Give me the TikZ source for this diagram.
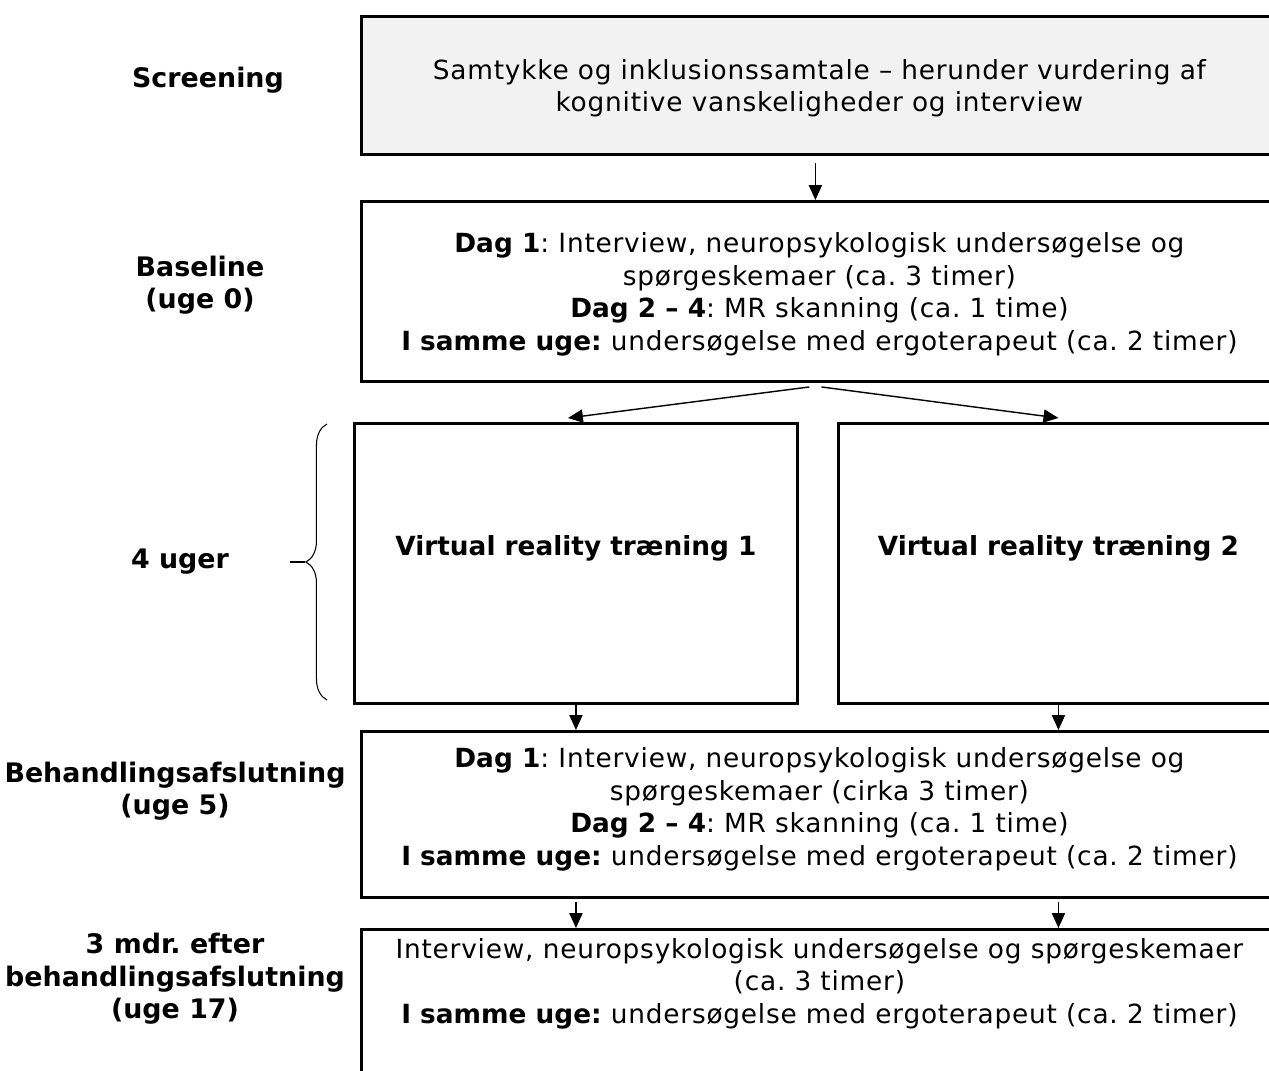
\documentclass[tikz,border=0pt]{standalone}
\usepackage{fontspec}
\setmainfont{DejaVu Sans}[LetterSpace=3.0, BoldFeatures={LetterSpace=0}]
\usetikzlibrary{arrows.meta,positioning,calc,decorations.pathreplacing}

\tikzset{
  stage/.style={draw, line width=1.7pt, anchor=north west, align=center, inner sep=0pt,
                font=\fontsize{15}{18.5}\selectfont},
  phase/.style={align=center, font=\fontsize{15.3}{18.5}\selectfont\bfseries},
  arr/.style={-{Triangle[length=8.5pt,width=7.5pt]}, line width=0.8pt},
}
\frenchspacing

\begin{document}
\begin{tikzpicture}[x=0.02cm, y=-0.02cm]
		\useasboundingbox (0,0) rectangle (1269,1071);

		% boxes
		\path (360, 15)   node[stage, fill=gray!10, minimum width=18.32cm, minimum height=2.76cm, text depth=0pt] (scr)
		        {Samtykke og inklusionssamtale -- herunder vurdering af\\kognitive vanskeligheder og interview}
		      (360, 200)  node[stage, minimum width=18.32cm, minimum height=3.6cm, text depth=0pt] (base)
		        {\textbf{Dag 1}: Interview, neuropsykologisk undersøgelse og\\spørgeskemaer (ca. 3 timer)\\
		         \textbf{Dag 2 -- 4}: MR skanning (ca. 1 time)\\
		         \textbf{I samme uge:} undersøgelse med ergoterapeut (ca. 2 timer)}
		      (353, 422)  node[stage, minimum width=8.86cm, minimum height=5.6cm, text depth=20pt] (vr1)
		        {\textbf{Virtual reality træning 1}}
		      (837, 422)  node[stage, minimum width=8.8cm, minimum height=5.6cm, text depth=20pt] (vr2)
		        {\textbf{Virtual reality træning 2}}
		      (360, 730)  node[stage, minimum width=18.32cm, minimum height=3.32cm, text depth=9pt] (beh)
		        {\textbf{Dag 1}: Interview, neuropsykologisk undersøgelse og\\spørgeskemaer (cirka 3 timer)\\
		         \textbf{Dag 2 -- 4}: MR skanning (ca. 1 time)\\
		         \textbf{I samme uge:} undersøgelse med ergoterapeut (ca. 2 timer)}
		      (360, 928)  node[stage, minimum width=18.32cm, minimum height=3.04cm, text depth=28pt] (fin)
		        {Interview, neuropsykologisk undersøgelse og spørgeskemaer\\(ca. 3 timer)\\
		         \textbf{I samme uge:} undersøgelse med ergoterapeut (ca. 2 timer)};

		% phases
		\path (208, 80)   node[phase] (pscr)  {Screening}
		      (200, 285)  node[phase] (pbase) {Baseline\\(uge 0)}
		      (180, 562)  node[phase] (pvr)   {4 uger}
		      (175, 791)  node[phase] (pbeh)  {Behandlingsafslutning\\(uge 5)}
		      (175, 979)  node[phase] (pfin)  {3 mdr. efter\\behandlingsafslutning\\(uge 17)};

		% brace
		\draw[decorate, decoration={brace, amplitude=12pt}, line width=0.6pt] (327, 700) -- (327, 424);
		\coordinate (tip) at (305, 562);
		\draw[line width=0.6pt] (tip) -- (290, 562);

		% arrows
		\draw[arr, shorten <=4pt] ($(scr.south)+(-4,0)$) -- ($(base.north)+(-4,0)$);
		\draw[arr] ($(base.south)+(-10,4)$) -- ($(vr1.north)+(-8,-4)$);
		\draw[arr] ($(base.south)+(2,4)$) -- ($(vr2.north)+(0,-4)$);
		\draw[arr] (vr1.south) -- (vr1.south |- beh.north);
		\draw[arr] (vr2.south) -- (vr2.south |- beh.north);
		\draw[arr, shorten <=2pt] (vr1.south |- beh.south) -- (vr1.south |- fin.north);
		\draw[arr, shorten <=2pt] (vr2.south |- beh.south) -- (vr2.south |- fin.north);
	\end{tikzpicture}
\end{document}
